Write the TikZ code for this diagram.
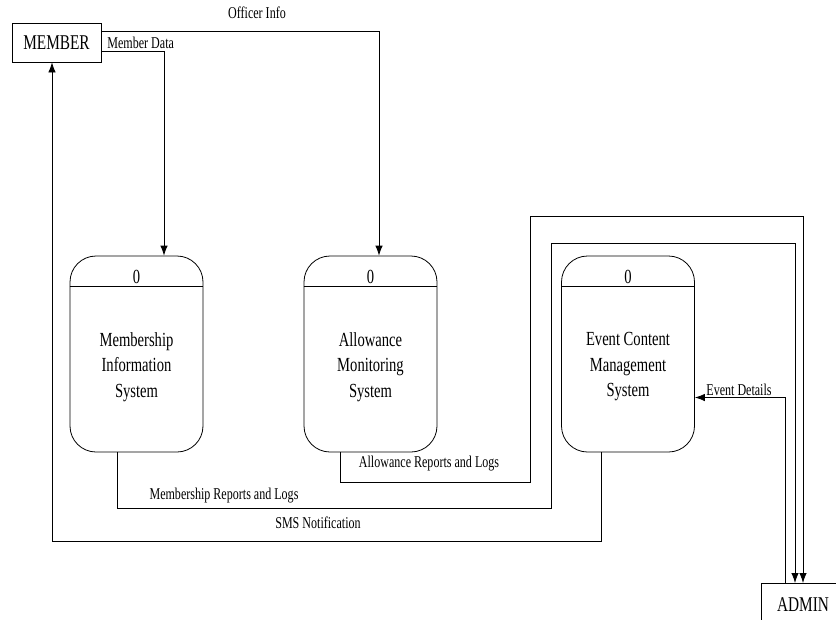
\documentclass[tikz,border=0pt]{standalone}
\usepackage{fontspec}
\setmainfont[FakeStretch=0.73]{Liberation Serif}
\usetikzlibrary{arrows.meta}
\begin{document}
\begin{tikzpicture}[x=1pt,y=-1pt,
  line width=0.8pt,
  ent/.style={draw,rectangle,inner sep=0pt,font=\fontsize{21}{24}\selectfont},
  proc/.style={draw,rectangle,rounded corners=26pt,minimum width=133pt,minimum height=196pt,inner sep=0pt},
  ptext/.style={align=center,inner sep=0pt,font=\fontsize{20}{25.5}\selectfont},
  flow/.style={-{Latex[length=10pt,width=7.5pt]}},
  lbl/.style={inner sep=0pt,font=\fontsize{16.5}{18}\selectfont}]
\useasboundingbox (0,0) rectangle (836,619);
\clip (0,0) rectangle (836,619);

\node[ent,minimum width=89pt,minimum height=39pt] (member) at (56.5,42.5) {MEMBER};
\node[ent,minimum width=84pt,minimum height=46pt,anchor=north west] (admin) at (761,583) {};
\node[font=\fontsize{21}{24}\selectfont,inner sep=0pt] (admint) at (803,605) {ADMIN};

\node[proc] (p1) at (136.5,354) {};
\node[proc] (p2) at (370.5,354) {};
\node[proc] (p3) at (628,354) {};
\node[ptext] (t1) at (136.5,367) {Membership\\Information\\System};
\node[ptext] (t2) at (370.5,367) {Allowance\\Monitoring\\System};
\node[ptext] (t3) at (628,367) {Event Content\\Management\\System};

\foreach \p in {p1,p2,p3}{
  \draw ([yshift=-31pt]\p.north west) -- ([yshift=-31pt]\p.north east);
  \node[font=\fontsize{20}{22}\selectfont,inner sep=0pt] at ([yshift=-21pt]\p.north) {0};
}

% Officer Info
\draw[flow] ([yshift=11.5pt]member.east) -| ([xshift=8.5pt]p2.north);
\node[lbl] (l1) at (257,13) {Officer Info};
% Member Data
\draw[flow] ([yshift=-8.5pt]member.east) -| ([xshift=27.5pt]p1.north);
\node[lbl,anchor=west] (l2) at (107,43) {Member Data};
% Allowance Reports and Logs
\draw[flow] ([xshift=-30.5pt]p2.south) |- (530,482) |- (803,216) -- (admin.north -| 803,0);
\node[lbl] (l3) at (429,464) {Allowance Reports and Logs};
% Membership Reports and Logs
\draw[flow] ([xshift=-19.5pt]p1.south) |- (551,508) |- (795,243) -- (admin.north -| 795,0);
\node[lbl] (l4) at (224,496) {Membership Reports and Logs};
% SMS Notification
\draw[flow] ([xshift=-27pt]p3.south) |- (52,541) -- ([xshift=-4.5pt]member.south);
\node[lbl] (l5) at (318,523) {SMS Notification};
% Event Details
\draw[flow] (admin.north -| 785,0) |- ([yshift=-43.5pt]p3.east);
\node[lbl] (l6) at (739,390) {Event Details};
\end{tikzpicture}
\end{document}
